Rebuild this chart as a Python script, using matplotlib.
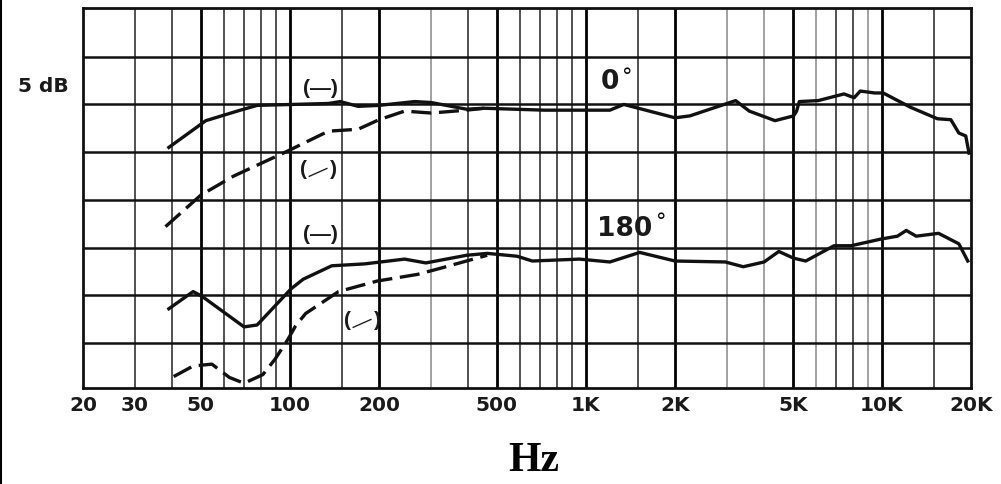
import matplotlib
matplotlib.use("Agg")
import matplotlib.pyplot as plt
from matplotlib.lines import Line2D

# frequency response (Hz, dB)
f_0_solid = [39, 52, 68, 77.5, 135, 148, 170, 200, 264, 300, 395, 453, 725, 1205, 1343,
             2000, 2245, 3205, 3565, 4355, 5030, 5150, 5260, 6090, 7450, 8060, 8450,
             9460, 10100, 12500, 15400, 17100, 18200, 19200, 19700]
db_0_solid = [25.5, 28.3, 29.4, 29.9, 30.1, 30.3, 29.8, 29.9, 30.3, 30.2, 29.5, 29.6, 29.4, 29.4, 30.0,
              28.6, 28.8, 30.4, 29.3, 28.3, 28.8, 29.3, 30.3, 30.4, 31.1, 30.7, 31.4,
              31.2, 31.2, 29.7, 28.5, 28.4, 27.0, 26.7, 24.9]

f_0_dash = [38, 50, 64.6, 98, 135, 170, 200, 244, 300, 395, 453]
db_0_dash = [17.2, 20.5, 22.5, 25.1, 27.2, 27.4, 28.4, 29.3, 29.1, 29.4, 29.6]

f_180_solid = [39, 47.1, 50.5, 70, 77.5, 101, 111, 138.5, 179, 244, 288, 395, 464, 586, 659,
               951, 1205, 1520, 2000, 2960, 3400, 4000, 4485, 5030, 5530, 6890, 7870,
               9930, 11280, 12090, 13060, 15540, 18200, 19500]
db_180_solid = [8.6, 10.4, 9.9, 6.7, 6.9, 10.7, 11.7, 13.1, 13.3, 13.8, 13.4, 14.2, 14.4, 14.1, 13.6,
                13.8, 13.5, 14.5, 13.6, 13.5, 13.0, 13.5, 14.6, 13.9, 13.6, 15.2, 15.2,
                15.9, 16.2, 16.8, 16.2, 16.5, 15.4, 13.6]

f_180_dash = [40.5, 47.1, 54.5, 62.5, 70, 81, 89, 98.5, 104.5, 113, 146, 197, 270, 319, 395, 464]
db_180_dash = [1.5, 2.6, 2.8, 1.4, 0.8, 1.7, 3.3, 5.4, 6.8, 8.1, 10.4, 11.5, 12.2, 12.8, 13.6, 14.2]

tick_freqs = [20, 30, 50, 100, 200, 500, 1000, 2000, 5000, 10000, 20000]
tick_labels = ["20", "30", "50", "100", "200", "500", "1K", "2K", "5K", "10K", "20K"]

thick_lines = [50, 100, 200, 500, 1000, 2000, 5000, 10000]
thin_lines = [30, 40, 60, 70, 80, 90, 150, 400, 600, 700, 800, 900, 1500, 7000, 8000, 15000]
gray_lines = [300, 3000, 4000, 6000, 9000]
db_lines = [5, 10, 15, 20, 25, 30, 35]

fig = plt.figure(figsize=(10.01, 4.85), dpi=100)
ax = fig.add_axes([83 / 1001, 1 - 389 / 485, (971 - 83) / 1001, (389 - 9) / 485])
ax.set_xscale("log")
ax.set_xlim(20, 20000)
ax.set_ylim(0.3, 40.1)

for f in thick_lines:
    ax.axvline(f, color="black", lw=2.0, zorder=1)
for f in thin_lines:
    ax.axvline(f, color="#222222", lw=1.1, zorder=1)
for f in gray_lines:
    ax.axvline(f, color="#9a9a9a", lw=1.3, zorder=1)
for d in db_lines:
    ax.axhline(d, color="#111111", lw=1.8, zorder=1)

ax.plot(f_0_solid, db_0_solid, color="#111111", lw=2.4, solid_joinstyle="round", zorder=3)
ax.plot(f_0_dash, db_0_dash, color="#111111", lw=2.4, dashes=(6, 2.3), zorder=3)
ax.plot(f_180_solid, db_180_solid, color="#111111", lw=2.4, solid_joinstyle="round", zorder=3)
ax.plot(f_180_dash, db_180_dash, color="#111111", lw=2.4, dashes=(6, 2.3), zorder=3)

for s in ax.spines.values():
    s.set_linewidth(2.0)
    s.set_color("#111111")

ax.set_xticks(tick_freqs)
ax.set_xticklabels(tick_labels, fontfamily="DejaVu Sans", fontweight="bold", fontsize=14.5,
                   color="#1a1a1a")
ax.xaxis.set_minor_locator(matplotlib.ticker.NullLocator())
ax.tick_params(axis="x", length=0, pad=5)
ax.set_yticks([])

def px(x, y):
    return x / 1001, 1 - y / 485

fig.text(*px(43, 87), "5 dB", ha="center", va="center", fontfamily="DejaVu Sans",
         fontweight="bold", fontsize=14.5, color="#1a1a1a")
fig.text(*px(610, 82), "0", ha="center", va="center", fontfamily="DejaVu Sans",
         fontweight="bold", fontsize=19, color="#1a1a1a")
fig.text(*px(627, 77), "°", ha="center", va="center", fontfamily="DejaVu Sans", fontsize=15)
fig.text(*px(625, 229), "180", ha="center", va="center", fontfamily="DejaVu Sans",
         fontweight="bold", fontsize=19, color="#1a1a1a")
fig.text(*px(661, 222), "°", ha="center", va="center", fontfamily="DejaVu Sans", fontsize=15)

# polarity markers: plain dash for the solid curves, slanted dash for the dashed ones
for x, y in ((320, 88), (320, 235)):
    fig.text(*px(x, y), "(—)", ha="center", va="center", fontfamily="Liberation Sans",
             fontweight="bold", fontsize=15, color="#1a1a1a")
for x, y in ((318, 170), (362, 321)):
    fig.text(*px(x, y), "(    )", ha="center", va="center", fontfamily="Liberation Sans",
             fontweight="bold", fontsize=15, color="#1a1a1a")
    fig.text(*px(x, y + 2), "—", ha="center", va="center", fontfamily="Liberation Sans",
             fontsize=15, rotation=24, color="#1a1a1a")

fig.text(*px(534, 461), "Hz", ha="center", va="center", fontfamily="Liberation Serif",
         fontweight="bold", fontsize=30)

fig.add_artist(Line2D([0.001, 0.001], [0, 1], color="black", lw=1.5, transform=fig.transFigure))

fig.savefig("out.png", dpi=100)
